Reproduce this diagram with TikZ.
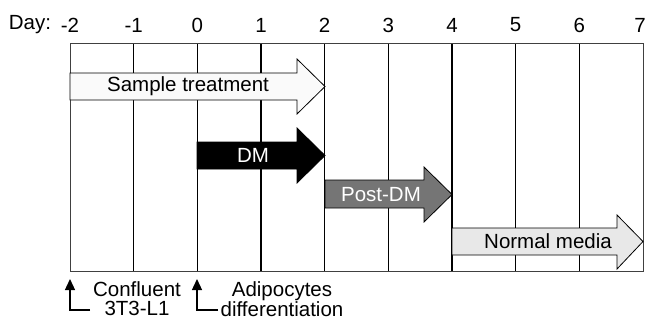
\documentclass[tikz,border=0pt]{standalone}
\usepackage{fontspec}
\setmainfont{Liberation Sans}
\usepackage{tikz}
\usetikzlibrary{arrows.meta}
\tikzstyle{every node}=[inner sep=0pt,font=\fontsize{20.5}{19}\selectfont]
\tikzstyle{gridline}=[line width=1.4pt]
\tikzstyle{frameline}=[line width=1pt,black!75]
\tikzstyle{stage}=[draw=black,line width=0.8pt]
\tikzstyle{marker}=[line width=1.3pt,-{Triangle[width=10pt,length=11pt]}]

\begin{document}
\begin{tikzpicture}[x=1pt,y=-1pt]
\useasboundingbox (0,0) rectangle (647,327);
% day grid
\foreach \i in {1,...,8}
  \draw[gridline] (70+63.67*\i,43)--(70+63.67*\i,271);
\draw[frameline] (70,43) rectangle (643,271);
\node (day) at (30,25) {Day:};
\foreach \i/\d in {0/-2,1/-1,2/0,3/1,4/2,5/3,6/4,7/5,8/6}
  \node (d\i) at (70+63.67*\i,25) {\d};
\node[anchor=east] (d9) at (646,25) {7};
% stages
\draw[stage,fill=black!2] (70,73)--(297,73)--(297,59)--(325,86.5)--(297,114)--(297,100)--(70,100)--cycle;
\node (samp) at (188,86.5) {Sample treatment};
\draw[stage,fill=black] (197,142)--(297,142)--(297,128)--(325,155.5)--(297,183)--(297,169)--(197,169)--cycle;
\node[text=white] (dm) at (253,155.5) {DM};
\draw[stage,fill=black!54] (325,180)--(424,180)--(424,167)--(452,194.5)--(424,222)--(424,208)--(325,208)--cycle;
\node[text=white] (post) at (381,194.5) {Post-DM};
\draw[stage,fill=black!9] (452,228)--(617,228)--(617,215)--(643,241.5)--(617,269)--(617,255)--(452,255)--cycle;
\node (norm) at (548,241.5) {Normal media};
% start markers
\node[align=center] (conf) at (137,299) {Confluent\\3T3-L1};
\node[align=center] (adip) at (282,299) {Adipocytes\\differentiation};
\coordinate (c1) at (90,310);
\coordinate (c2) at (218,310);
\draw[marker] (c1)--(70,310)--(70,279);
\draw[marker] (c2)--(197,310)--(197,279);
\end{tikzpicture}
\end{document}
